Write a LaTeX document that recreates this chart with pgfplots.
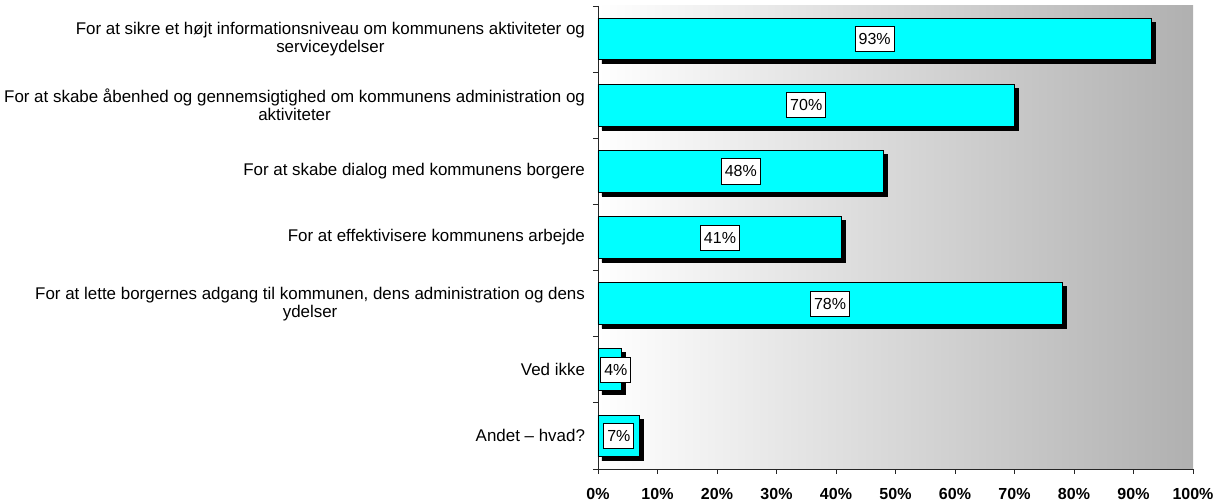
\documentclass[border=0pt]{standalone}
\usepackage{pgfplots}
\usepackage{pgfplotstable}
\pgfplotsset{compat=1.18}
\usepackage{fontspec}
\setmainfont{Liberation Sans}
\usetikzlibrary{shadows}

\definecolor{barcyan}{RGB}{0,255,255}
\definecolor{bggray}{RGB}{176,176,176}

% share of answers, top to bottom
\pgfplotstableread{
y v
0 93
1 70
2 48
3 41
4 78
5 4
6 7
}\answers

\begin{document}
\begin{tikzpicture}
\begin{axis}[
  name=ax,
  scale only axis, width=446.25pt, height=347.25pt,
  xmin=0, xmax=100, ymin=-0.5, ymax=6.5, y dir=reverse,
  axis x line*=bottom, axis y line*=left,
  axis line style={line width=0.7pt, black!85},
  tick align=outside, major tick length=3.75pt, minor tick length=3.75pt,
  tick style={line width=0.7pt, black!85},
  xtick={0,10,...,100},
  xticklabels={0\%,10\%,20\%,30\%,40\%,50\%,60\%,70\%,80\%,90\%,100\%},
  x tick label style={font=\fontsize{12}{14}\selectfont\bfseries, yshift=-7pt},
  ytick={0,...,6},
  major y tick style={draw=none},
  minor ytick={-0.5,0.5,...,6.5},
  yticklabels={
    {For at sikre et højt informationsniveau om kommunens aktiviteter og\\serviceydelser},
    {For at skabe åbenhed og gennemsigtighed om kommunens administration og\\aktiviteter},
    {For at skabe dialog med kommunens borgere},
    {For at effektivisere kommunens arbejde},
    {For at lette borgernes adgang til kommunen, dens administration og dens\\ydelser},
    {Ved ikke},
    {Andet – hvad?}},
  y tick label style={align=center, xshift=-2.5pt, font=\fontsize{12.7}{13.5}\selectfont},
  axis background/.style={left color=white, right color=bggray},
  clip=false,
]
\addplot[xbar, bar width=0.63, fill=barcyan, draw=black, line width=0.7pt,
  drop shadow={shadow xshift=3pt, shadow yshift=-3pt, fill=black, opacity=1}]
  table[x=v, y=y] {\answers};

\addplot[draw=none, mark=none, point meta=explicit symbolic,
  nodes near coords={\pgfplotspointmeta\%},
  every node near coord/.append style={anchor=center, draw=black, fill=white,
    line width=0.6pt, inner xsep=2.6pt, inner ysep=5.2pt,
    font=\fontsize{12}{14}\selectfont}]
  table[x expr={max(\thisrow{v}/2,3)}, y=y, meta=v] {\answers};
\end{axis}
\pgfresetboundingbox
\path ([shift={(-448.5pt,-26.25pt)}]ax.south west) rectangle ([shift={(25.5pt,4.5pt)}]ax.north east);
\end{tikzpicture}
\end{document}
